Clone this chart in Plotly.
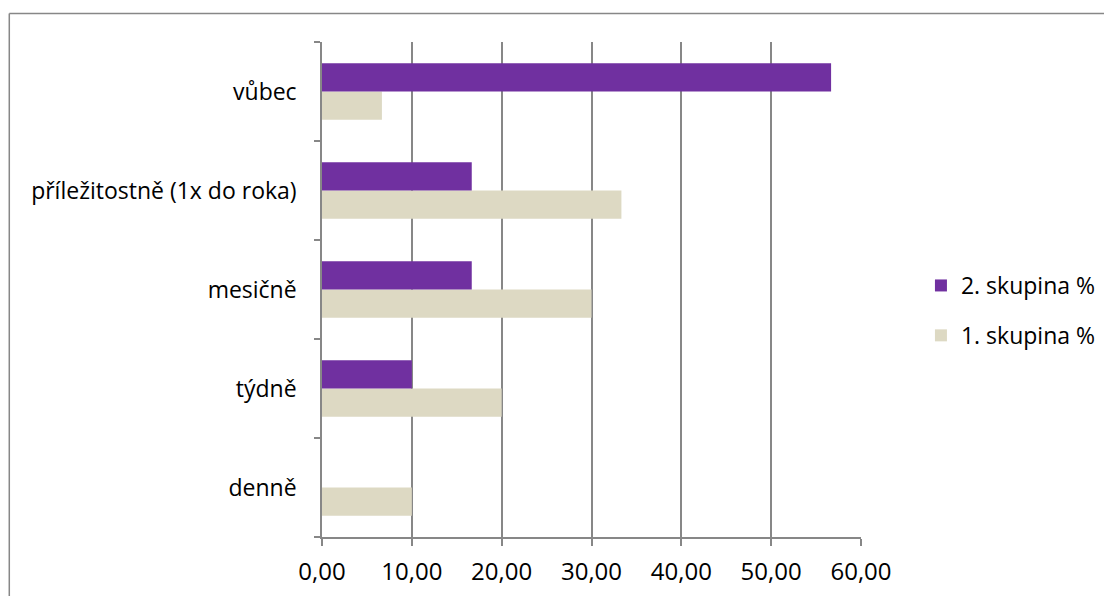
import plotly.graph_objects as go

categories = ["denně", "týdně", "mesičně", "příležitostně (1x do roka)", "vůbec"]
group1 = [10.00, 20.00, 30.00, 33.33, 6.67]
group2 = [0.00, 10.00, 16.67, 16.67, 56.67]
series_names = ["1. skupina %", "2. skupina %"]
x_ticks = [0, 10, 20, 30, 40, 50, 60]

W, H = 1104, 596
L, R, T, B = 321.5, 243, 42, 59
pw = W - L - R
ph = H - T - B

FONT = "Open Sans"
fnt = dict(family=FONT, size=23, color="black")
xfnt = dict(family=FONT, size=24, color="black")

fig = go.Figure()
fig.add_trace(go.Bar(y=categories, x=group1, orientation="h", name=series_names[0],
                     legendgroup="g1", legendrank=2,
                     marker=dict(color="#DDD9C3", line=dict(width=0))))
fig.add_trace(go.Bar(y=categories, x=group2, orientation="h", name=series_names[1],
                     legendgroup="g2", legendrank=1,
                     marker=dict(color="#7030A0", line=dict(width=0))))

grid = "#878787"
fig.update_layout(
    width=W, height=H,
    margin=dict(l=L, r=R, t=T, b=B, pad=0, autoexpand=False),
    paper_bgcolor="white", plot_bgcolor="white",
    barmode="group", bargap=0.43, bargroupgap=0,
    separators=", ",
    font=fnt,
    legend=dict(traceorder="grouped", x=(921 - L) / pw, y=(H - B - 264) / ph,
                xanchor="left", yanchor="top", font=fnt,
                itemwidth=30, tracegroupgap=17, bgcolor="rgba(0,0,0,0)"),
    xaxis=dict(range=[0, 60], tickvals=x_ticks, tickformat=".2f", tickfont=xfnt,
               showgrid=True, gridcolor=grid, gridwidth=1.5,
               showline=True, linecolor=grid, linewidth=1.5,
               ticks="outside", ticklen=7, tickcolor=grid, tickwidth=1.5,
               ticklabelstandoff=5, automargin=False,
               zeroline=False, fixedrange=True),
    yaxis=dict(categoryorder="array", categoryarray=categories, tickfont=fnt,
               showgrid=False, showline=True, linecolor=grid, linewidth=1.5,
               ticks="outside", ticklen=6, tickcolor=grid, tickwidth=1.5,
               tickson="boundaries", ticklabelstandoff=19, automargin=False,
               fixedrange=True),
)

# outer chart-area border (top and left edges visible)
bx0 = (8.5 - L) / pw
by0 = (H - B - 13.5) / ph
fig.add_shape(type="line", xref="paper", yref="paper", x0=bx0, x1=1.6, y0=by0, y1=by0,
              line=dict(color="#878787", width=1.5))
fig.add_shape(type="line", xref="paper", yref="paper", x0=bx0, x1=bx0, y0=by0, y1=-0.3,
              line=dict(color="#878787", width=1.5))

fig.write_html("out.html")
